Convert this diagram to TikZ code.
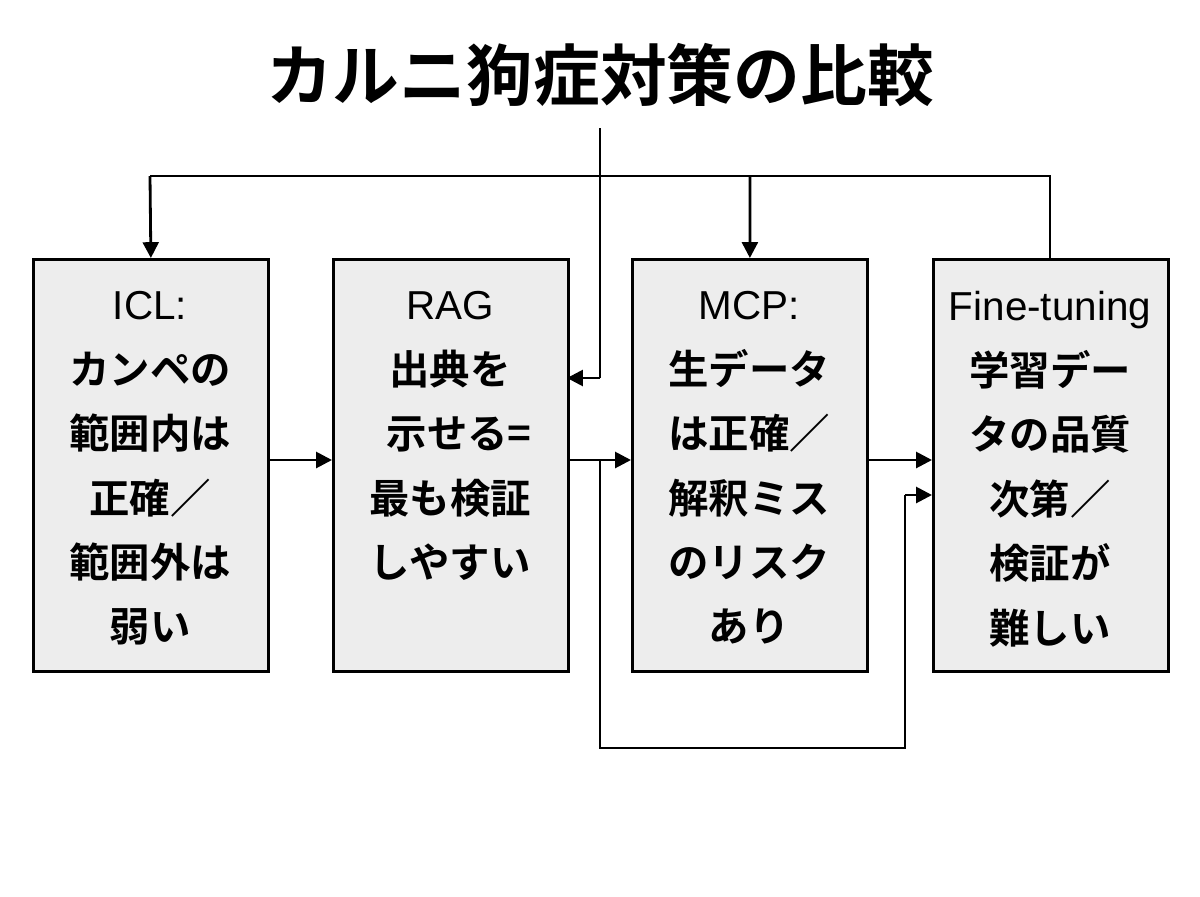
\documentclass[tikz,border=0pt]{standalone}
\usepackage{fontspec}
\setmainfont{Noto Sans CJK JP}[BoldFont={* Bold}]
\newfontfamily\lat{Liberation Sans}
\usetikzlibrary{arrows.meta}
\begin{document}
\begin{tikzpicture}[x=0.02cm,y=-0.02cm,
 box/.style={draw,line width=1.6pt,fill=black!7,minimum width=4.7cm,minimum height=8.24cm,anchor=north west,inner sep=0},
 txt/.style={anchor=north,align=center,font=\fontsize{23}{36.7}\selectfont\bfseries,inner sep=0},
 con/.style={line width=1.6pt},
 arr/.style={con,-{Triangle[length=9pt,width=9pt]}}]
\useasboundingbox (0,0) rectangle (1200,896);
\node[font=\fontsize{38}{40}\selectfont\bfseries] (title) at (600,75) {カルニ狗症対策の比較};
\node[box] (b1) at (32,258) {};
\node[box] (b2) at (332,258) {};
\node[box] (b3) at (631,258) {};
\node[box] (b4) at (932,258) {};
\node[txt] (t1) at (150,291) {{\lat\mdseries ICL:}\\カンペの\\範囲内は\\正確／\\範囲外は\\弱い};
\node[txt] (t2) at (450,291) {{\lat\mdseries RAG}\\出典を\\\ \ 示せる=\\最も検証\\しやすい};
\node[txt] (t3) at (749,291) {{\lat\mdseries MCP:}\\生データ\\は正確／\\解釈ミス\\のリスク\\あり};
\node[txt] (t4) at (1050,291) {{\lat\mdseries Fine-tuning}\\学習デー\\タの品質\\次第／\\検証が\\難しい};
\coordinate (tb) at (600,128);
\coordinate (tc) at (600,378);
\draw[con] (tb) -- (tc);
\draw[arr] (tc) -- (567,378);
\coordinate (r4) at (1050,176);
\coordinate (r1) at (150,176);
\coordinate (r3) at (750,176);
\draw[con] (b4.north -| r4) -- (r4) -- (r1);
\draw[arr] (r1) -- (b1.north);
\draw[arr] (r3) -- (b3.north);
\draw[arr] (267,460) -- (332,460);
\draw[arr] (567,460) -- (631,460);
\draw[arr] (867,460) -- (932,460);
\coordinate (d1) at (600,460);
\coordinate (d2) at (600,748);
\coordinate (d3) at (905,748);
\coordinate (d4) at (905,495);
\draw[con] (d1) -- (d2) -- (d3) -- (d4);
\draw[arr] (d4) -- (932,495);
\end{tikzpicture}
\end{document}
